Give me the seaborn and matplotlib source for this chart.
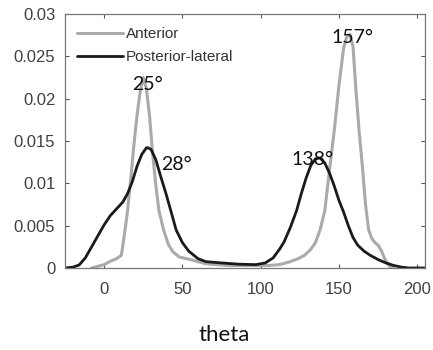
import numpy as np
import pandas as pd
import matplotlib
matplotlib.use("Agg")
import matplotlib.pyplot as plt
import seaborn as sns

# ---- data ----
ant_x = [-8, -4, 0, 4, 8, 11, 13, 15, 17, 19, 21, 23, 25, 27, 29, 31, 33, 35, 38, 41, 44, 48,
         55, 65, 80, 95, 105, 112, 118, 124, 128, 132, 135, 138, 141, 144, 147, 150, 153, 155,
         157, 159, 161, 163, 165, 167, 169, 171, 173, 175, 177, 179, 181, 183, 185]
ant_y = [0, 0.0002, 0.0004, 0.0008, 0.0011, 0.0015, 0.004, 0.0068, 0.0105, 0.0145, 0.018, 0.0208,
         0.0225, 0.0212, 0.018, 0.0135, 0.0098, 0.0068, 0.0045, 0.0028, 0.0019, 0.0013,
         0.001, 0.0005, 0.0003, 0.0003, 0.0003, 0.0004, 0.0007, 0.0011, 0.0015, 0.0022, 0.003,
         0.0045, 0.0068, 0.0116, 0.0162, 0.0215, 0.026, 0.0273,
         0.0276, 0.0262, 0.0207, 0.016, 0.012, 0.0075, 0.0045, 0.0035, 0.003, 0.0027, 0.0021,
         0.0012, 0.0005, 0.0001, 0]

pos_x = [-25, -20, -16, -12, -8, -4, 0, 4, 8, 12, 15, 18, 21, 24, 27, 28, 30, 33, 36, 39.5, 43,
         46, 50, 54, 60, 65, 75, 86, 97, 103, 108, 112, 115, 119, 123, 126, 129, 132, 135, 138,
         141, 144, 147, 150, 153, 156, 159, 162, 166, 170, 175, 180, 185, 190, 195, 205]
pos_y = [0, 0.0001, 0.00035, 0.0012, 0.0025, 0.0038, 0.0051, 0.0062, 0.007, 0.0078, 0.0088,
         0.0102, 0.012, 0.0134, 0.0142, 0.0142, 0.014, 0.0128, 0.0109, 0.0088, 0.0065,
         0.0045, 0.003, 0.002, 0.0011, 0.00075, 0.0006, 0.00045, 0.0004, 0.0006, 0.0012,
         0.0022, 0.0031, 0.0048, 0.0068, 0.0088, 0.0106, 0.0121, 0.0129, 0.013,
         0.0124, 0.0112, 0.0097, 0.008, 0.0066, 0.005, 0.0036, 0.0027, 0.002, 0.0015, 0.001,
         0.0006, 0.0003, 0.0001, 0, 0]

series_names = ["Anterior", "Posterior-lateral"]
peak_labels = ["25°", "28°", "138°", "157°"]
peak_pos = [(27.6, 0.0210), (46.2, 0.01157), (133, 0.01216), (158.7, 0.02654)]

x_ticks = [0, 50, 100, 150, 200]
y_ticks = [0, 0.005, 0.01, 0.015, 0.02, 0.025, 0.03]
y_tick_labels = ["0", "0.005", "0.01", "0.015", "0.02", "0.025", "0.03"]

sns.set_style("ticks")
plt.rcParams["font.family"] = ["Liberation Sans", "DejaVu Sans"]

fig = plt.figure(figsize=(4.33, 3.5), dpi=100)
ax = fig.add_axes([65/433, 1-268/350, 360/433, 254/350])

df_a = pd.DataFrame({"theta": ant_x, "p": ant_y})
df_p = pd.DataFrame({"theta": pos_x, "p": pos_y})
sns.lineplot(data=df_a, x="theta", y="p", ax=ax, color="#aaaaaa", lw=2.2,
             label=series_names[0], sort=False)
sns.lineplot(data=df_p, x="theta", y="p", ax=ax, color="#1a1a1a", lw=2.0,
             label=series_names[1], sort=False)

ax.set_xlim(-25, 205)
ax.set_ylim(0, 0.03)
ax.set_xticks(x_ticks)
ax.set_xticklabels([str(t) for t in x_ticks])
ax.set_yticks(y_ticks)
ax.set_yticklabels(y_tick_labels)
ax.tick_params(direction="in", length=3, width=0.8, colors="#555555",
               labelcolor="#404040", labelsize=12, top=True, right=True)
ax.tick_params(axis="x", pad=10)
ax.tick_params(axis="y", pad=7)
for s in ax.spines.values():
    s.set_visible(True)
    s.set_color("#777777")
    s.set_linewidth(0.9)
ax.set_xlabel("")
ax.set_ylabel("")

for lab, (px, py) in zip(peak_labels, peak_pos):
    ax.text(px, py, lab, ha="center", va="baseline", fontsize=14,
            family=["Lato", "DejaVu Sans"], color="#111111")

leg = ax.legend(loc="upper left", bbox_to_anchor=(0.033, 0.948), frameon=False,
                fontsize=11, handlelength=3.0, handletextpad=0.2,
                labelspacing=0.6, borderaxespad=0.0, borderpad=0.0)
for t in leg.get_texts():
    t.set_color("#333333")

fig.text(224/433, 1-341/350, "theta", ha="center", va="baseline", fontsize=16,
         family=["Lato", "DejaVu Sans"], color="#111111")

fig.savefig("out.png", dpi=100)
